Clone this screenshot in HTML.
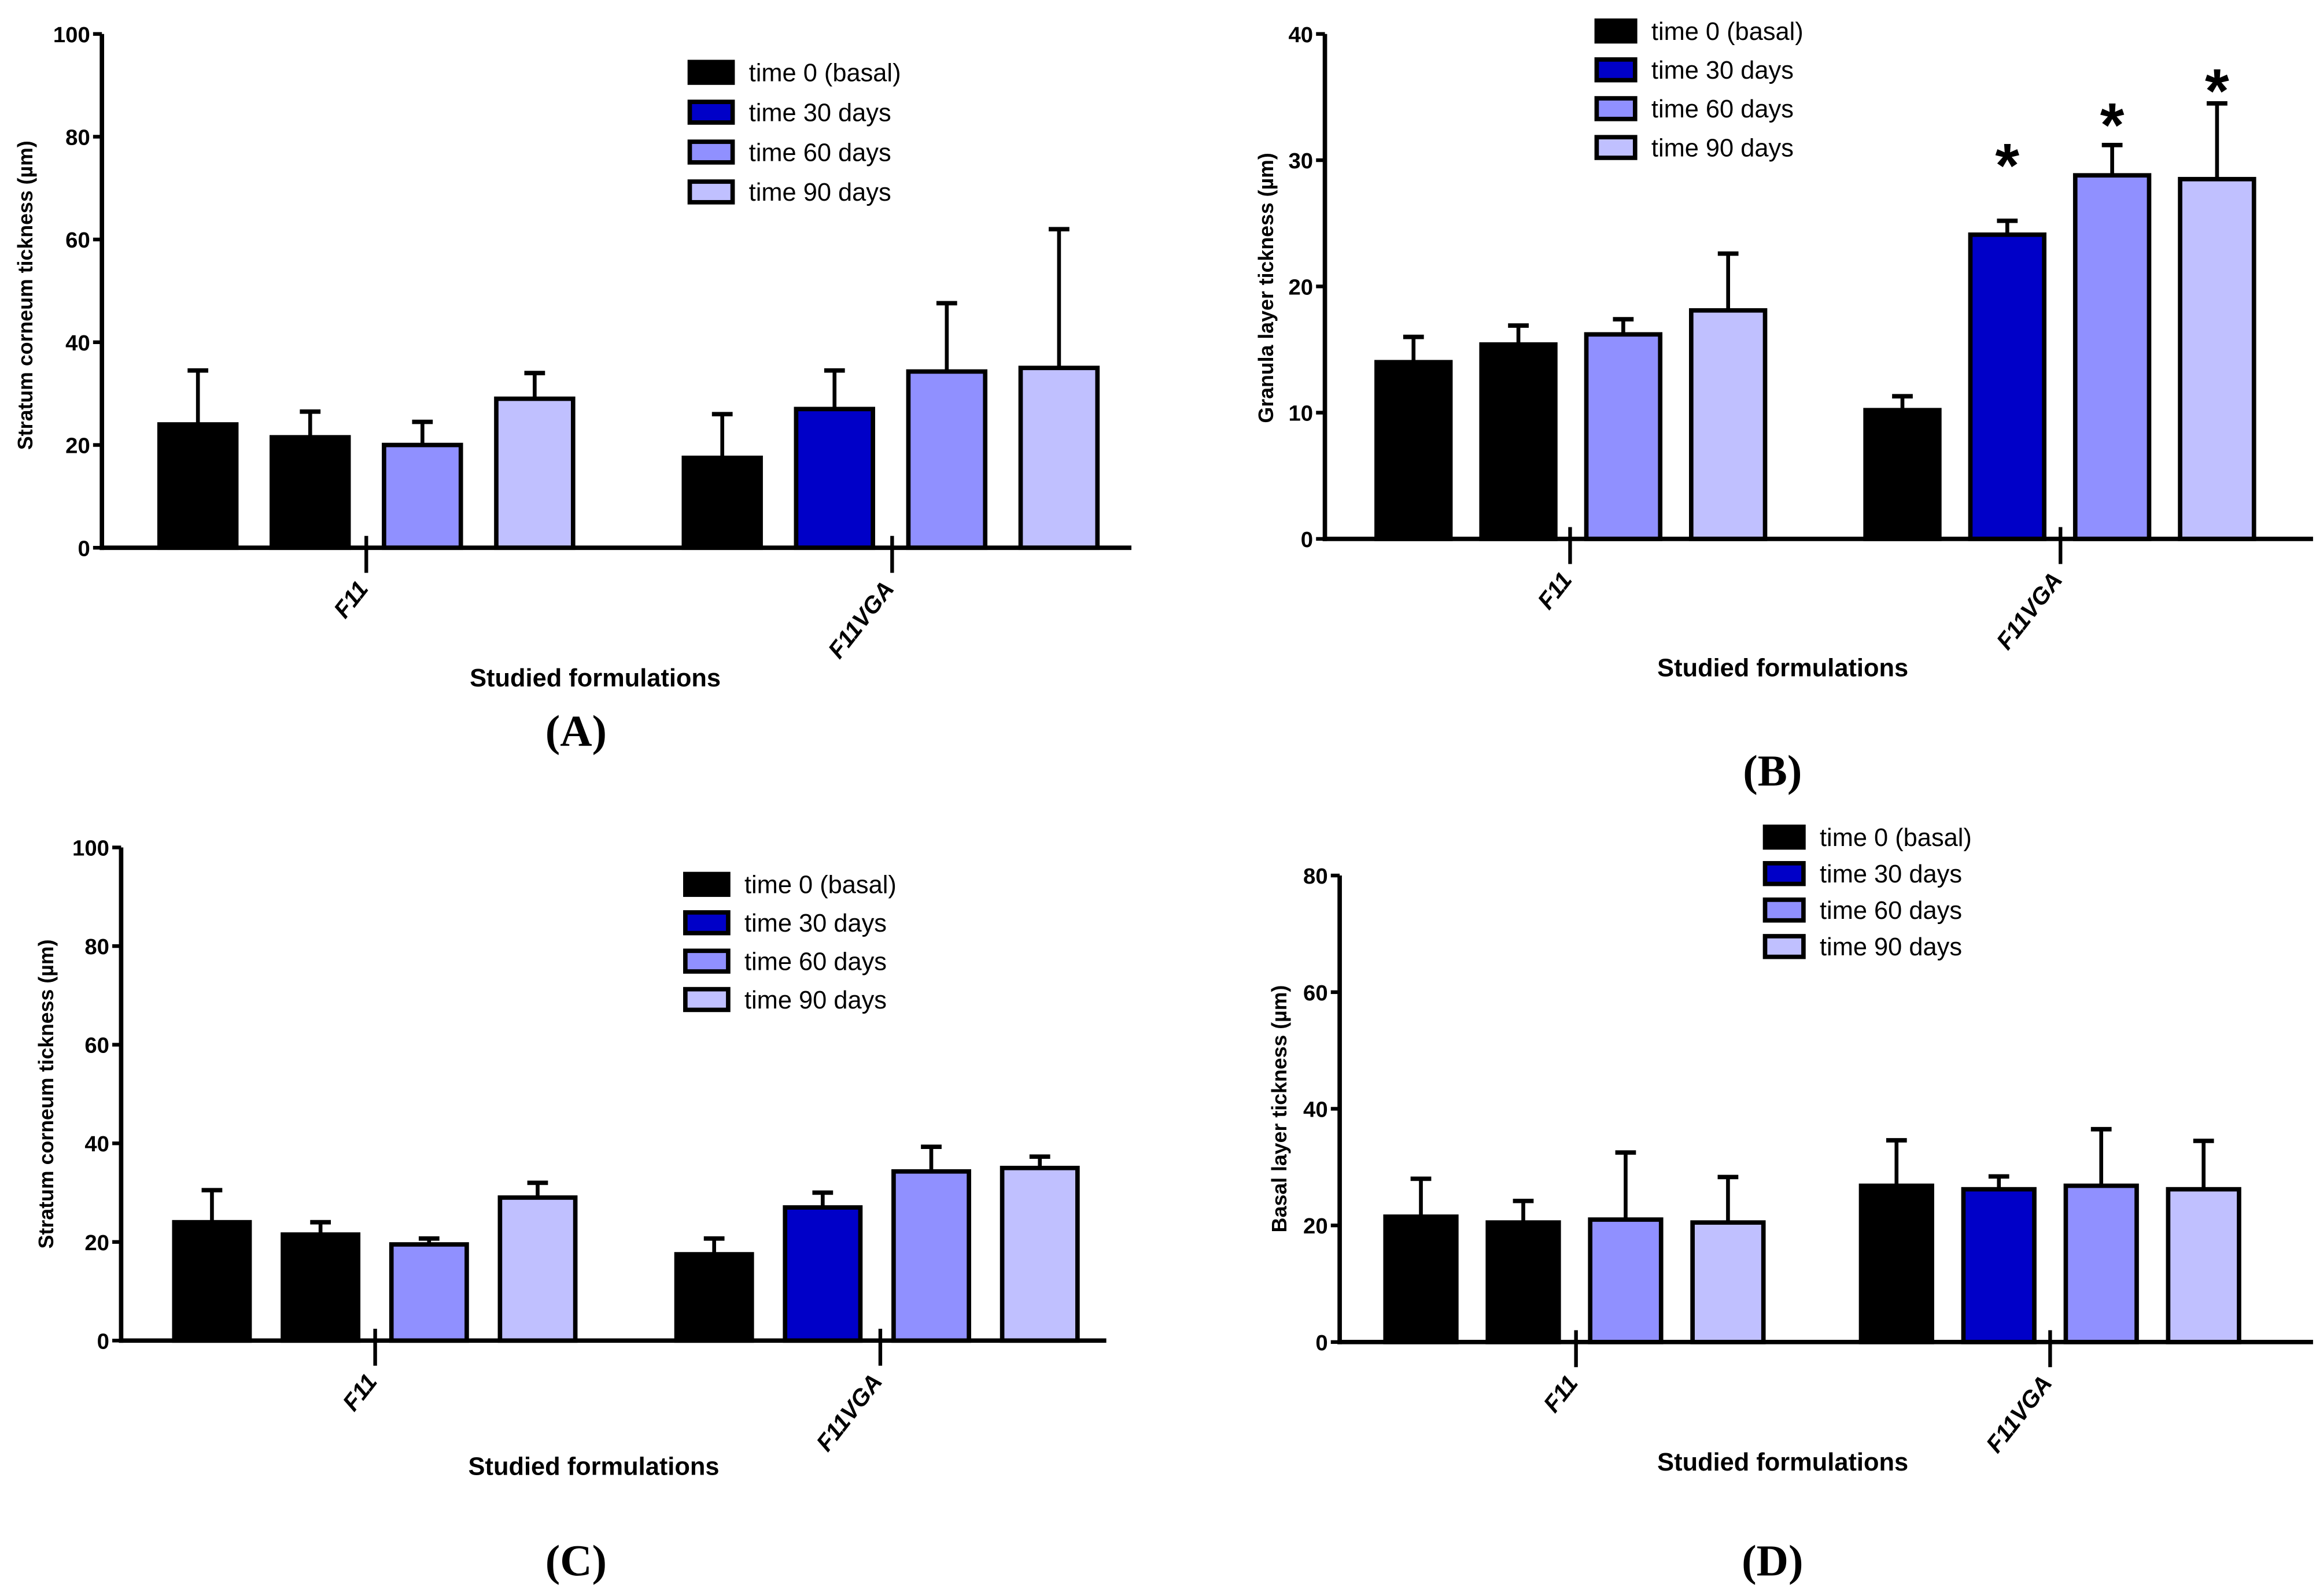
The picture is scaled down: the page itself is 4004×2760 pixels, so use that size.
<!DOCTYPE html>
<html><head><meta charset="utf-8"><style>
html,body{margin:0;padding:0;background:#fff}
svg{display:block}
text{font-family:"Liberation Sans",sans-serif}
text.serif{font-family:"Liberation Serif",serif}
</style></head><body>
<svg id="fig" width="4004" height="2760" viewBox="0 0 1568 1081" preserveAspectRatio="none" xmlns="http://www.w3.org/2000/svg"></svg>
<script>
const groups = ["F11","F11VGA"];
const seriesNames = ["time 0 (basal)","time 30 days","time 60 days","time 90 days"];
const aMeans = [[24,21.5,20,29],[17.5,27,34.3,35]];
const aErrs = [[10.5,5,4.5,5],[8.5,7.5,13.3,27]];
const aTicks = [0,20,40,60,80,100];
const bMeans = [[14,15.4,16.2,18.1],[10.2,24.1,28.8,28.5]];
const bErrs = [[2,1.5,1.2,4.5],[1.1,1.1,2.4,6]];
const bTicks = [0,10,20,30,40];
const bStarLevels = [[null,null,null,null],[null,27.9,31.1,33.8]];
const cMeans = [[24,21.5,19.5,29],[17.5,27,34.3,35]];
const cErrs = [[6.5,2.5,1.2,3],[3.2,3,5,2.3]];
const cTicks = [0,20,40,60,80,100];
const dMeans = [[21.5,20.5,21,20.5],[26.8,26.2,26.8,26.2]];
const dErrs = [[6.5,3.7,11.5,7.8],[7.8,2.2,9.7,8.3]];
const dTicks = [0,20,40,60,80];

const fills = [["#000","#000","#9090ff","#c0c0ff"],["#000","#0000c8","#9090ff","#c0c0ff"]];
const legendFills = ["#000","#0000c8","#9090ff","#c0c0ff"];
const NS="http://www.w3.org/2000/svg";
const svg=document.getElementById('fig');
function mk(tag,attrs,parent,txt){const e=document.createElementNS(NS,tag);for(const k in attrs)e.setAttribute(k,attrs[k]);if(txt!==undefined)e.textContent=txt;(parent||svg).appendChild(e);return e;}

function panel(p){
  const g=mk('g',{});
  
  
  const ymax=p.ticks[p.ticks.length-1];
  const y=v=>p.y0-(v/ymax)*(p.y0-p.ytop);
  for(let gi=0;gi<2;gi++){
    for(let si=0;si<4;si++){
      const x=p.barX[gi]+si*p.step;
      const m=p.means[gi][si], e=p.errs[gi][si];
      const cx=x+p.bw/2;
      const eb=mk('g',{},g);
      
      
      mk('line',{x1:cx,x2:cx,y1:y(m),y2:y(m+e),stroke:'#000','stroke-width':2.6},eb);
      mk('line',{x1:cx-7,x2:cx+7,y1:y(m+e),y2:y(m+e),stroke:'#000','stroke-width':3},eb);
      const r=mk('rect',{x:x,y:y(m),width:p.bw,height:p.y0-y(m),fill:fills[gi][si],stroke:'#000','stroke-width':3},g);
      
      
      if(p.stars&&p.stars[gi][si]!==null){
        const s=mk('text',{x:cx,y:y(p.stars[gi][si]),'text-anchor':'middle','font-size':42,'font-weight':'bold'},g,'*');
        
        
      }
    }
  }
  const ya=mk('line',{x1:p.x0,x2:p.x0,y1:p.ytop,y2:p.y0+1.5,stroke:'#000','stroke-width':3},g);
  
  
  const xa=mk('line',{x1:p.x0-1.5,x2:p.xend,y1:p.y0,y2:p.y0,stroke:'#000','stroke-width':3},g);
  
  
  p.ticks.forEach(t=>{
    mk('line',{x1:p.x0-6,x2:p.x0,y1:y(t),y2:y(t),stroke:'#000','stroke-width':2.5},g);
    const tl=mk('text',{x:p.x0-8,y:y(t)+5.5,'text-anchor':'end','font-size':15,'font-weight':'bold'},g,String(t));
    
    
  });
  groups.forEach((gn,gi)=>{
    const tx=p.gTick[gi];
    mk('line',{x1:tx,x2:tx,y1:p.y0-8,y2:p.y0+17,stroke:'#000','stroke-width':2.5},g);
    const tl=mk('text',{x:tx+2,y:p.y0+28,'text-anchor':'end','font-size':16,'font-weight':'bold','font-style':'italic',transform:`rotate(-52 ${tx+2} ${p.y0+28})`},g,gn);
    
    
  });
  const xl=mk('text',{x:p.xlab[0],y:p.xlab[1],'text-anchor':'middle','font-size':17,'font-weight':'bold'},g,'Studied formulations');
  
  
  const yl=mk('text',{x:p.ylab[0],y:p.ylab[1],'text-anchor':'middle','font-size':14,'font-weight':'bold',transform:`rotate(-90 ${p.ylab[0]} ${p.ylab[1]})`},g,p.ytitle);
  
  
  seriesNames.forEach((n,i)=>{
    const ly=p.leg[1]+i*p.leg[3];
    const le=mk('g',{},g);
    
    
    mk('rect',{x:p.leg[0],y:ly-7,width:p.leg[2],height:14,fill:legendFills[i],stroke:'#000','stroke-width':3},le);
    mk('text',{x:p.leg[0]+p.leg[2]+11,y:ly+6,'font-size':17},le,n);
  });
  const pl=mk('text',{x:p.plab[0],y:p.plab[1],'text-anchor':'middle','font-size':30,'font-weight':'bold','class':'serif'},g,p.label);
  
  
}

panel({id:'a',means:aMeans,errs:aErrs,ticks:aTicks,x0:69,xend:766,ytop:23,y0:371,barX:[108,463],step:76,bw:52,gTick:[248,604],
  xlab:[403,465],ylab:[22,200],ytitle:'Stratum corneum tickness (µm)',leg:[467,49,29,27],plab:[390,505],label:'(A)'});
panel({id:'b',means:bMeans,errs:bErrs,ticks:bTicks,stars:bStarLevels,x0:897,xend:1566,ytop:23,y0:365,barX:[932,1263],step:71,bw:50,gTick:[1063,1395],
  xlab:[1207,458],ylab:[862,195],ytitle:'Granula layer tickness  (µm)',leg:[1081,21,26,26.3],plab:[1200,532],label:'(B)'});
panel({id:'c',means:cMeans,errs:cErrs,ticks:cTicks,x0:82,xend:749,ytop:574,y0:908,barX:[118,458],step:73.5,bw:51,gTick:[254,596],
  xlab:[402,999],ylab:[36,741],ytitle:'Stratum corneum tickness (µm)',leg:[464,599,29,26],plab:[390,1067],label:'(C)'});
panel({id:'d',means:dMeans,errs:dErrs,ticks:dTicks,x0:907,xend:1566,ytop:593,y0:909,barX:[938,1260],step:69.3,bw:48,gTick:[1067,1388],
  xlab:[1207,996],ylab:[871,751],ytitle:'Basal layer tickness (µm)',leg:[1195,567,26,24.7],plab:[1200,1067],label:'(D)'});
</script>
</body></html>
